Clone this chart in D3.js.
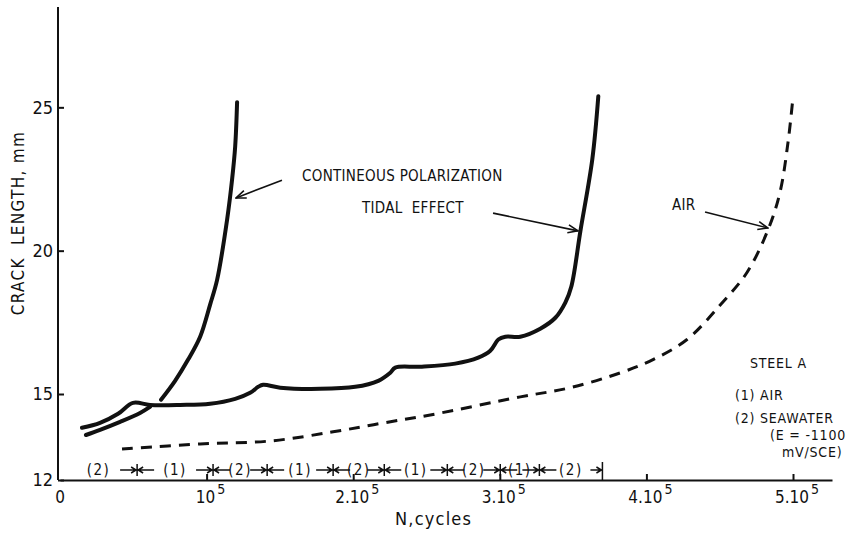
<!DOCTYPE html>
<html>
<head>
<meta charset="utf-8">
<script src="https://cdn.jsdelivr.net/npm/d3@7"></script>
<style>
  body { margin: 0; background: #fff; }
  text { font-family: "DejaVu Sans Condensed", "Liberation Sans Narrow", "DejaVu Sans", sans-serif; fill: #111; }
  .axis path, .axis line { stroke: #111; stroke-width: 2; }
</style>
</head>
<body>
<div id="chart"></div>
<script>
(function () {

  // N in cycles, crack length in mm
  var polarN   = [17700, 27300, 41000, 54600, 61400, null, 68900, 78500, 87400, 95600, 102400, 107200, 114000, 117400, 119500, 120800]
  var polarLen = [13.57, 13.75, 14.03, 14.34, 14.55, null, 14.80, 15.46, 16.20, 17.00, 18.12, 18.99, 21.09, 22.49, 23.64, 25.18]

  var tidalN   = [15000, 27300, 39600, 49800, 61400, 81900, 102400, 119500, 129700, 135200, 138600, 150200, 177500, 201400, 217100, 225300, 228700,
                  245700, 269600, 285300, 293500, 299000, 303800, 314000, 327600, 337900, 344700, 348800, 355000, 363100, 367200]
  var tidalLen = [13.82, 13.99, 14.31, 14.69, 14.62, 14.62, 14.66, 14.83, 15.04, 15.25, 15.32, 15.22, 15.18, 15.25, 15.46, 15.74, 15.92,
                  15.95, 16.06, 16.27, 16.51, 16.90, 17.00, 17.00, 17.28, 17.66, 18.19, 18.75, 20.69, 23.19, 25.39]

  var airN   = [42300, 95600, 143300, 186300, 220500, 252600, 314000, 348100, 382300, 404500, 427700, 450200, 468600, 482900, 491100, 496600, 500000]
  var airLen = [13.08, 13.26, 13.36, 13.68, 13.99, 14.27, 14.90, 15.22, 15.74, 16.20, 16.90, 18.10, 19.24, 20.72, 22.03, 23.78, 25.36]

  // test sequence along the bottom: (1) air, (2) seawater
  var phaseEnds   = [52600, 104400, 141300, 186300, 221200, 264200, 300300, 327000, 370000]
  var phaseLabels = ['(2)', '(1)', '(2)', '(1)', '(2)', '(1)', '(2)', '(1)', '(2)']

  var xTicks = [0, 100000, 200000, 300000, 400000, 500000]
  var xTickBase = ['0', '10', '2.10', '3.10', '4.10', '5.10']
  var yTicks = [12, 15, 20, 25]

  var width = 858,
      height = 534

  var svg = d3.select("#chart").append("svg")
    .attr("width", width)
    .attr("height", height)

  var xPositionScale = d3.scaleLinear()
    .domain([0, 526600])
    .range([60, 832])

  var yPositionScale = d3.scaleLinear()
    .domain([12, 28.5])
    .range([480, 7])

  // arrowhead
  svg.append("defs").append("marker")
    .attr("id", "head")
    .attr("markerUnits", "userSpaceOnUse")
    .attr("viewBox", "0 0 12 10")
    .attr("refX", 11)
    .attr("refY", 5)
    .attr("markerWidth", 12)
    .attr("markerHeight", 10)
    .attr("orient", "auto")
    .append("path")
    .attr("d", "M1,1 L11,5 L1,9")
    .attr("fill", "none")
    .attr("stroke", "#111")
    .attr("stroke-width", 1.6)

  // axes
  var xAxis = d3.axisBottom(xPositionScale)
    .tickValues(xTicks.slice(1))
    .tickSizeInner(-6)
    .tickSizeOuter(0)
    .tickFormat("")
  svg.append("g")
    .attr("class", "axis x-axis")
    .attr("transform", "translate(0," + yPositionScale(12) + ")")
    .call(xAxis)

  var yAxis = d3.axisLeft(yPositionScale)
    .tickValues(yTicks)
    .tickSizeInner(-6)
    .tickSizeOuter(0)
    .tickPadding(5)
  svg.append("g")
    .attr("class", "axis y-axis")
    .attr("transform", "translate(" + (xPositionScale(0) - 2) + ",0)")
    .call(yAxis)
  svg.selectAll(".y-axis text")
    .attr("font-size", 18)
    .attr("font-family", null)
  svg.selectAll(".y-axis path, .y-axis line, .x-axis path, .x-axis line").attr("stroke", "#111")
  svg.select(".y-axis .domain").attr("d", "M0," + yPositionScale(12) + "V" + yPositionScale(28.5))

  // x tick labels with superscript 5
  xTicks.forEach(function (t, i) {
    var label = svg.append("text")
      .attr("x", xPositionScale(t) + (i === 0 ? 0 : 4))
      .attr("y", 503)
      .attr("font-size", 17)
      .attr("text-anchor", "middle")
    label.append("tspan").text(xTickBase[i])
    if (i > 0) {
      label.append("tspan").attr("dy", -9).attr("dx", 2).attr("font-size", 14).text("5")
    }
  })

  svg.append("text")
    .attr("x", 395)
    .attr("y", 525)
    .attr("font-size", 18)
    .attr("letter-spacing", 1.2)
    .text("N,cycles")

  svg.append("text")
    .attr("transform", "translate(24,223) rotate(-90)")
    .attr("text-anchor", "middle")
    .attr("font-size", 17)
    .attr("letter-spacing", 1.3)
    .style("white-space", "pre")
    .text("CRACK  LENGTH, mm")

  // curves
  var line = d3.line()
    .defined(function (d) { return d[0] !== null })
    .x(function (d) { return xPositionScale(d[0]) })
    .y(function (d) { return yPositionScale(d[1]) })
    .curve(d3.curveCatmullRom.alpha(0.5))

  svg.append("path")
    .datum(d3.zip(polarN, polarLen))
    .attr("d", line)
    .attr("fill", "none")
    .attr("stroke", "#111")
    .attr("stroke-width", 4)
    .attr("stroke-linecap", "round")

  svg.append("path")
    .datum(d3.zip(tidalN, tidalLen))
    .attr("d", line)
    .attr("fill", "none")
    .attr("stroke", "#111")
    .attr("stroke-width", 4)
    .attr("stroke-linecap", "round")
    .attr("stroke-linejoin", "round")

  svg.append("path")
    .datum(d3.zip(airN, airLen))
    .attr("d", line)
    .attr("fill", "none")
    .attr("stroke", "#111")
    .attr("stroke-width", 3)
    .attr("stroke-dasharray", "11,8")

  // annotations
  var notes = [
    { text: "CONTINEOUS POLARIZATION", x: 302, y: 181, from: [151400, 22.46], to: [120050, 21.84] },
    { text: "TIDAL  EFFECT", x: 362, y: 213, from: [295400, 21.31], to: [353300, 20.69] },
    { text: "AIR", x: 672, y: 210, from: [440000, 21.35], to: [482900, 20.79] }
  ]

  notes.forEach(function (n) {
    svg.append("text")
      .attr("x", n.x)
      .attr("y", n.y)
      .attr("font-size", 15)
      .attr("letter-spacing", 0.3)
      .style("white-space", "pre")
      .text(n.text)
    svg.append("line")
      .attr("x1", xPositionScale(n.from[0]))
      .attr("y1", yPositionScale(n.from[1]))
      .attr("x2", xPositionScale(n.to[0]))
      .attr("y2", yPositionScale(n.to[1]))
      .attr("stroke", "#111")
      .attr("stroke-width", 1.6)
      .attr("marker-end", "url(#head)")
  })

  // legend block
  var legend = [
    { text: "STEEL A", x: 750, y: 368 },
    { text: "(1) AIR", x: 735, y: 400 },
    { text: "(2) SEAWATER", x: 735, y: 423 },
    { text: "(E = -1100", x: 770, y: 440 },
    { text: "mV/SCE)", x: 782, y: 457 }
  ]
  svg.selectAll(".legend")
    .data(legend)
    .enter().append("text")
    .attr("class", "legend")
    .attr("x", function (d) { return d.x })
    .attr("y", function (d) { return d.y })
    .attr("font-size", 14)
    .attr("letter-spacing", 0.8)
    .text(function (d) { return d.text })

  // phase markers along the bottom
  var rowY = 470
  var starts = [0].concat(phaseEnds.slice(0, -1))

  svg.selectAll(".phase-label")
    .data(phaseLabels)
    .enter().append("text")
    .attr("class", "phase-label")
    .attr("x", function (d, i) { return xPositionScale((starts[i] + phaseEnds[i]) / 2) })
    .attr("y", rowY + 5)
    .attr("text-anchor", "middle")
    .attr("font-size", 15)
    .attr("letter-spacing", 1.5)
    .text(function (d) { return d })

  svg.selectAll(".phase-mark")
    .data(phaseEnds)
    .enter().append("path")
    .attr("class", "phase-mark")
    .attr("fill", "none")
    .attr("stroke", "#111")
    .attr("stroke-width", 1.5)
    .attr("d", function (d, i) {
      var b = xPositionScale(d)
      if (i === phaseEnds.length - 1) {
        return "M" + (b - 12) + "," + rowY + "H" + b +
          "M" + b + "," + (rowY - 8) + "V" + 480 +
          "M" + (b - 6) + "," + (rowY - 3) + "L" + (b - 1) + "," + rowY + "L" + (b - 6) + "," + (rowY + 3)
      }
      return "M" + (b - 17) + "," + rowY + "H" + (b + 17) +
        "M" + b + "," + (rowY - 6) + "V" + (rowY + 6) +
        "M" + (b - 6) + "," + (rowY - 3) + "L" + (b - 1) + "," + rowY + "L" + (b - 6) + "," + (rowY + 3) +
        "M" + (b + 6) + "," + (rowY - 3) + "L" + (b + 1) + "," + rowY + "L" + (b + 6) + "," + (rowY + 3)
    })

})()
</script>
</body>
</html>
